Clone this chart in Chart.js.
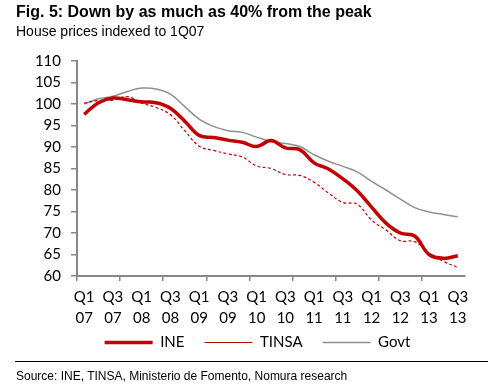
<!DOCTYPE html>
<html>
<head>
<meta charset="utf-8">
<script src="https://cdn.jsdelivr.net/npm/chart.js@4/dist/chart.umd.min.js"></script>
<style>
  body { margin: 0; background: #fff; }
  #wrap { position: relative; width: 497px; height: 384px; overflow: hidden; }
  #wrap canvas { position: absolute; left: 0; top: 0; }
  .txt { position: absolute; left: 16px; font-family: "Liberation Sans", Arial, sans-serif; color: #000; white-space: nowrap; }
  #title { top: 4px; font-size: 16px; line-height: 16px; font-weight: bold; }
  #sub { top: 24px; font-size: 14px; line-height: 14px; }
  #rule { position: absolute; left: 15px; width: 473px; top: 361px; height: 1px; background: #000; }
  #src { top: 370px; font-size: 12px; line-height: 12px; }
</style>
</head>
<body>
<div id="wrap">
  <canvas id="chart" width="497" height="384"></canvas>
  <div class="txt" id="title">Fig. 5: Down by as much as 40% from the peak</div>
  <div class="txt" id="sub">House prices indexed to 1Q07</div>
  <div id="rule"></div>
  <div class="txt" id="src">Source: INE, TINSA, Ministerio de Fomento, Nomura research</div>
</div>
<script>
// quarters, Q1 07 .. Q3 13
const quarters = ['Q1', 'Q2', 'Q3', 'Q4', 'Q1', 'Q2', 'Q3', 'Q4', 'Q1', 'Q2', 'Q3', 'Q4', 'Q1', 'Q2',
                  'Q3', 'Q4', 'Q1', 'Q2', 'Q3', 'Q4', 'Q1', 'Q2', 'Q3', 'Q4', 'Q1', 'Q2', 'Q3'];
const years = ['07', '07', '07', '07', '08', '08', '08', '08', '09', '09', '09', '09', '10', '10',
               '10', '10', '11', '11', '11', '11', '12', '12', '12', '12', '13', '13', '13'];
const categories = quarters.map((q, i) => q + ' ' + years[i]);

const ine = [97.6, 100.3, 101.4, 101.0, 100.5, 100.3, 99.0, 96.0, 92.7, 92.2, 91.6, 91.1, 90.1, 91.5,
             89.8, 89.4, 86.3, 84.9, 82.6, 79.8, 76.0, 72.3, 70.0, 69.3, 65.0, 64.1, 64.7];
const tinsa = [100.2, 100.8, 100.9, 101.7, 100.2, 99.2, 97.5, 93.8, 90.2, 89.2, 88.4, 87.7, 85.6, 85.0,
               83.6, 83.4, 81.8, 79.3, 77.1, 76.7, 73.0, 70.7, 68.2, 68.0, 65.3, 63.4, 62.0];
const govt = [100.0, 101.2, 101.8, 102.9, 103.7, 103.5, 102.3, 99.4, 96.5, 94.8, 93.8, 93.4, 92.3, 91.3,
              90.8, 90.1, 88.2, 86.7, 85.5, 84.2, 82.0, 80.0, 77.9, 75.9, 74.9, 74.3, 73.8];

const axisGrey = '#878787';
const red = '#C00000';

// legend in the original sits right of centre and tucked under the tick labels
const placeLegend = {
    id: 'placeLegend',
    afterLayout(chart) {
        const lg = chart.legend;
        const h = lg.bottom - lg.top;
        lg.left += 50;
        lg.top = 315;
        lg.bottom = 315 + h;
    },
};

const ctx = document.getElementById('chart').getContext('2d');
new Chart(ctx, {
    type: 'line',
    data: {
        labels: categories,
        datasets: [
            { label: 'INE', data: ine, borderColor: red, backgroundColor: red, borderWidth: 3.5 },
            { label: 'TINSA', data: tinsa, borderColor: red, backgroundColor: red, borderWidth: 1.2, borderDash: [3, 2.3] },
            { label: 'Govt', data: govt, borderColor: '#8F8F8F', backgroundColor: '#8F8F8F', borderWidth: 1.5 },
        ],
    },
    options: {
        responsive: false,
        animation: false,
        layout: { padding: { top: 61, left: 0, right: 32, bottom: 0 } },
        elements: {
            point: { radius: 0 },
            line: { tension: 0.4, fill: false },
        },
        plugins: {
            legend: {
                position: 'bottom',
                labels: {
                    boxWidth: 48,
                    boxHeight: 0,
                    padding: 20,
                    color: '#000',
                    font: { family: 'Lato', size: 15 },
                },
            },
            tooltip: { enabled: false },
        },
        scales: {
            x: {
                offset: true,
                afterFit: scale => { scale.height = 63; },
                grid: {
                    offset: true,
                    drawOnChartArea: false,
                    tickLength: 5,
                    lineWidth: 1.5,
                    color: c => (c.index % 3 === 0 ? axisGrey : 'rgba(0,0,0,0)'),
                },
                border: { color: axisGrey, width: 2 },
                ticks: {
                    autoSkip: false,
                    maxRotation: 0,
                    padding: 6,
                    color: '#000',
                    font: { family: 'Lato', size: 15, lineHeight: 1.4 },
                    callback: (v, i) => (i % 2 === 0 ? [quarters[i], years[i]] : ''),
                },
            },
            y: {
                min: 60,
                max: 110,
                afterFit: scale => { scale.width = 77; },
                grid: { drawOnChartArea: false, tickLength: 6, lineWidth: 1.5, color: axisGrey },
                border: { color: axisGrey, width: 2 },
                ticks: { stepSize: 5, padding: 10, color: '#000', font: { family: 'Lato', size: 15 } },
            },
        },
    },
    plugins: [placeLegend],
});
</script>
</body>
</html>
